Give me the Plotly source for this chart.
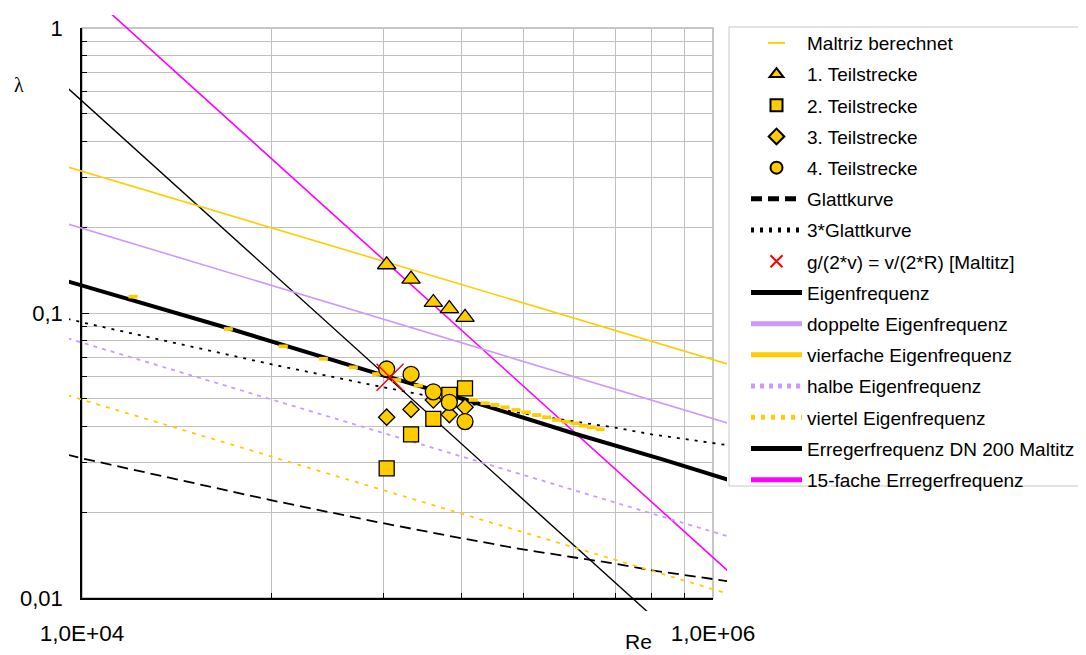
import plotly.graph_objects as go

# ---------------- data ----------------
maltriz_re = [14510, 29090, 43450, 58190, 72430, 85930, 99420, 116400,
              173900, 189400, 203700, 219100, 237500, 255500, 276200, 297200,
              319600, 342000, 365200, 388100, 412600, 438400]
maltriz_lam = [0.1141, 0.0879, 0.0764, 0.0691, 0.0645, 0.0611, 0.0582, 0.0556,
               0.04953, 0.04823, 0.04757, 0.04669, 0.04568, 0.04484, 0.04386, 0.04305,
               0.04213, 0.04155, 0.04102, 0.04023, 0.03971, 0.03907]

teil_re = [92400, 110400, 129900, 146000, 163700]
teil1_lam = [0.1477, 0.1315, 0.1089, 0.1036, 0.0965]
teil2_lam = [0.0285, 0.0375, 0.0425, 0.0516, 0.0544]
teil3_lam = [0.0431, 0.0459, 0.0495, 0.0440, 0.0467]
teil4_lam = [0.0636, 0.0609, 0.0529, 0.0486, 0.0416]

maltitz_re = [94700]
maltitz_lam = [0.0595]

glatt_re = [9000, 10000, 40000, 90000, 160000, 250000, 360000, 490000, 640000, 1000000, 1150000]
glatt_lam = [0.0318, 0.0309, 0.0220, 0.0183, 0.0162, 0.0148, 0.0139, 0.0132, 0.0125, 0.01166, 0.0114]
glatt3_lam = [0.0954, 0.0927, 0.0660, 0.0549, 0.0486, 0.0444, 0.0417, 0.0396, 0.0375, 0.0350, 0.0342]

eigen_re = [9000, 29090, 85930, 165700, 360700, 695800, 1150000]
eigen_lam = [0.1292, 0.0884, 0.0614, 0.04953, 0.03784, 0.0306, 0.02573]

line_re = [9000, 1150000]
doppelt_lam = [0.2054, 0.04065]
vierfach_lam = [0.3255, 0.0655]
halb_lam = [0.08151, 0.01629]
viertel_lam = [0.05142, 0.01025]
erreger_lam = [0.6161, 0.004822]
erreger15_lam = [1.542, 0.01207]

x_major = [1e4, 1e6]
x_major_text = ["1,0E+04", "1,0E+06"]
x_minor = [4e4, 9e4, 1.6e5, 2.5e5, 3.6e5, 4.9e5, 6.4e5, 8.1e5]
y_major = [0.01, 0.1, 1]
y_major_text = ["0,01", "0,1", "1"]
y_minor = [0.02, 0.03, 0.04, 0.05, 0.06, 0.07, 0.08, 0.09,
           0.2, 0.3, 0.4, 0.5, 0.6, 0.7, 0.8, 0.9]

# ---------------- styling / layout geometry ----------------
GOLD = "#FFCC00"
LAV = "#CC99FF"
MAG = "#FF00FF"
FONT = "Liberation Sans, Arial, sans-serif"

OFF = 8                                # page body margin
SW, SH = 1086, 655                     # screen size
W, H = SW - OFF, SH - OFF              # figure size
PL, PR, PT, PB = 82, 713, 28, 598      # plot frame (screen px)
CLIP = 13                              # lines run a little past the frame
ML = PL - CLIP - OFF
MT = PT - CLIP - OFF
MR = W - (PR + CLIP + 1 - OFF)
MB = H - (PB + CLIP - OFF)
pw, ph = W - ML - MR, H - MT - MB
xdec = (PR - PL) / 2.0
ydec = (PB - PT) / 2.0


def px_x(sx):
    return (sx - OFF - ML) / pw


def px_y(sy):
    return (H - MB - (sy - OFF)) / ph


def cx(sx):
    return (sx - OFF) / W


def cy(sy):
    return 1 - (sy - OFF) / H


fig = go.Figure()

# empty trace on the grid axes so that subplot exists
fig.add_trace(go.Scatter(x=[], y=[], xaxis="x", yaxis="y", showlegend=False, hoverinfo="skip"))


def add_line(name, xs, ys, color, width, dash, rank):
    fig.add_trace(go.Scatter(
        x=xs, y=ys, mode="lines", name=name, xaxis="x2", yaxis="y2",
        line=dict(color=color, width=width, dash=dash),
        legendrank=rank, legendgroup=name))


add_line("15-fache Erregerfrequenz", line_re, erreger15_lam, MAG, 1.6, "solid", 15)
add_line("Erregerfrequenz DN 200 Maltitz", line_re, erreger_lam, "black", 1.4, "solid", 14)
add_line("Glattkurve", glatt_re, glatt_lam, "black", 1.8, "11px,6px", 6)
add_line("3*Glattkurve", glatt_re, glatt3_lam, "black", 1.8, "3px,6px", 7)
add_line("halbe Eigenfrequenz", line_re, halb_lam, LAV, 1.8, "4px,5px", 12)
add_line("viertel Eigenfrequenz", line_re, viertel_lam, GOLD, 1.8, "4px,6px", 13)
add_line("doppelte Eigenfrequenz", line_re, doppelt_lam, LAV, 1.6, "solid", 10)
add_line("vierfache Eigenfrequenz", line_re, vierfach_lam, GOLD, 1.6, "solid", 11)
add_line("Eigenfrequenz", eigen_re, eigen_lam, "black", 4, "solid", 9)

fig.add_trace(go.Scatter(
    x=maltriz_re, y=maltriz_lam, mode="markers", name="Maltriz berechnet",
    xaxis="x2", yaxis="y2", legendrank=1, legendgroup="m",
    marker=dict(symbol="line-ew", size=6.5, color=GOLD, line=dict(color=GOLD, width=3.7))))


def add_pts(name, ys, symbol, size, rank):
    fig.add_trace(go.Scatter(
        x=teil_re, y=ys, mode="markers", name=name, xaxis="x2", yaxis="y2",
        legendrank=rank, legendgroup=name,
        marker=dict(symbol=symbol, size=size, color=GOLD, line=dict(color="black", width=1.3))))


add_pts("1. Teilstrecke", teil1_lam, "triangle-up", 16, 2)
add_pts("2. Teilstrecke", teil2_lam, "square", 15, 3)
add_pts("3. Teilstrecke", teil3_lam, "diamond", 12.5, 4)
add_pts("4. Teilstrecke", teil4_lam, "circle", 16, 5)

fig.add_trace(go.Scatter(
    x=maltitz_re, y=maltitz_lam, mode="markers", name="g/(2*v) = v/(2*R) [Maltitz]",
    xaxis="x2", yaxis="y2", legendrank=8, legendgroup="x",
    marker=dict(symbol="x-thin", size=27, color="red", line=dict(color="red", width=1.5))))

grid_dom_x = [px_x(PL), px_x(PR)]
grid_dom_y = [px_y(PB), px_y(PT)]

fig.update_layout(
    template="none",
    width=W, height=H, autosize=False,
    margin=dict(l=ML, r=MR, t=MT, b=MB, pad=0),
    paper_bgcolor="white", plot_bgcolor="rgba(0,0,0,0)",
    font=dict(family=FONT, color="black"),
    xaxis=dict(
        type="log", range=[4, 6], domain=grid_dom_x, anchor="y", automargin=False,
        tickmode="array", tickvals=x_major, ticktext=x_major_text,
        ticks="inside", ticklen=5, tickwidth=1, tickcolor="black",
        showgrid=True, gridcolor="#C0C0C0", gridwidth=1,
        showline=True, linecolor="black", linewidth=1.5,
        tickfont=dict(size=22.5, family=FONT, color="black"), ticklabelstandoff=14,
        minor=dict(tickmode="array", tickvals=x_minor, ticks="inside", ticklen=5,
                   tickcolor="black", showgrid=True, gridcolor="#C0C0C0", gridwidth=1),
        zeroline=False,
    ),
    yaxis=dict(
        type="log", range=[-2, 0], domain=grid_dom_y, anchor="x", automargin=False,
        tickmode="array", tickvals=y_major, ticktext=y_major_text,
        ticks="inside", ticklen=7, tickwidth=1, tickcolor="black",
        showgrid=True, gridcolor="#C0C0C0", gridwidth=1,
        showline=True, linecolor="black", linewidth=1.5,
        tickfont=dict(size=22, family=FONT, color="black"), ticklabelstandoff=13,
        minor=dict(tickmode="array", tickvals=y_minor, ticks="inside", ticklen=5,
                   tickcolor="black", showgrid=True, gridcolor="#C0C0C0", gridwidth=1),
        zeroline=False,
    ),
    xaxis2=dict(
        type="log", range=[4 - CLIP / xdec, 6 + (CLIP + 1) / xdec], domain=[0, 1],
        anchor="y2", visible=False, automargin=False,
    ),
    yaxis2=dict(
        type="log", range=[-2 - CLIP / ydec, 0 + CLIP / ydec], domain=[0, 1],
        anchor="x2", visible=False, automargin=False,
    ),
    legend=dict(
        xref="container", yref="container",
        x=cx(746), y=cy(24), xanchor="left", yanchor="top",
        bgcolor="rgba(0,0,0,0)", borderwidth=0,
        font=dict(size=19, family=FONT, color="black"),
        traceorder="grouped", tracegroupgap=3.5, itemsizing="constant",
        itemwidth=51, maxheight=640,
    ),
    showlegend=True,
    shapes=[
        dict(type="rect", xref="x domain", yref="y domain", x0=0, x1=1, y0=0, y1=1,
             line=dict(color="#B4B4B4", width=1.5), layer="below"),
        dict(type="rect", xref="paper", yref="paper",
             x0=px_x(729), x1=px_x(1095), y0=px_y(486), y1=px_y(27),
             line=dict(color="#C8C8C8", width=1), layer="below"),
    ],
    annotations=[
        dict(text="λ", x=px_x(19), y=px_y(85), xref="paper", yref="paper",
             showarrow=False, xanchor="center", yanchor="middle",
             font=dict(size=20, family="Liberation Serif, serif", color="black")),
        dict(text="Re", x=px_x(638), y=px_y(642), xref="paper", yref="paper",
             showarrow=False, xanchor="center", yanchor="middle",
             font=dict(size=21, family=FONT, color="black")),
    ],
)

fig.write_html("out.html")
